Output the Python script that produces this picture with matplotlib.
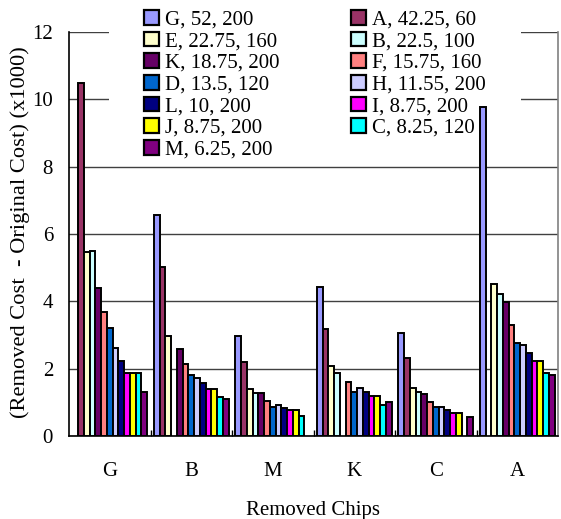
import numpy as np
import matplotlib
matplotlib.use("Agg")
import matplotlib.pyplot as plt
from matplotlib.patches import Rectangle, Patch

plt.rcParams['font.family'] = ['Liberation Serif', 'DejaVu Serif']

# Removed chips along the x axis
categories = ["G", "B", "M", "K", "C", "A"]

# One series per chip (label: name, area, power); NaN where the chip is the removed one
series_names = ["G", "A", "E", "B", "K", "F", "D", "H", "L", "I", "J", "C", "M"]
series_labels = ["G, 52, 200", "A, 42.25, 60", "E, 22.75, 160", "B, 22.5, 100",
                 "K, 18.75, 200", "F, 15.75, 160", "D, 13.5, 120", "H, 11.55, 200",
                 "L, 10, 200", "I, 8.75, 200", "J, 8.75, 200", "C, 8.25, 120",
                 "M, 6.25, 200"]
series_colors = ["#9999FF", "#993366", "#FFFFCC", "#CCFFFF", "#660066", "#FF8080",
                 "#0066CC", "#CCCCFF", "#000080", "#FF00FF", "#FFFF00", "#00FFFF",
                 "#800080"]

nan = np.nan
val_G = [nan, 6.55, 2.97, 4.43, 3.07, 9.76]
val_A = [10.50, 5.03, 2.19, 3.17, 2.33, nan]
val_E = [5.46, 2.97, 1.40, 2.09, 1.42, 4.51]
val_B = [5.49, nan, 1.29, 1.88, 1.32, 4.22]
val_K = [4.39, 2.58, 1.29, nan, 1.24, 3.97]
val_F = [3.69, 2.15, 1.05, 1.59, 1.02, 3.30]
val_D = [3.22, 1.81, 0.87, 1.30, 0.87, 2.75]
val_H = [2.62, 1.73, 0.91, 1.42, 0.87, 2.70]
val_L = [2.23, 1.56, 0.84, 1.30, 0.77, 2.46]
val_I = [1.88, 1.40, 0.77, 1.19, 0.69, 2.23]
val_J = [1.88, 1.40, 0.77, 1.19, 0.69, 2.23]
val_C = [1.88, 1.17, 0.59, 0.92, nan, 1.86]
val_M = [1.30, 1.10, nan, 1.00, 0.57, 1.81]

all_values = [val_G, val_A, val_E, val_B, val_K, val_F, val_D, val_H,
              val_L, val_I, val_J, val_C, val_M]

yticks = [0, 2, 4, 6, 8, 10, 12]

fig = plt.figure(figsize=(5.61, 5.19), dpi=100)
ax = fig.add_axes([69 / 561, 1 - 436 / 519, 489 / 561, 404 / 519])

x = np.arange(len(categories))
n = len(series_names)
w = 0.0708
handles = []
for j, (vals, col, lab) in enumerate(zip(all_values, series_colors, series_labels)):
    offs = (j - (n - 1) / 2) * w
    ax.bar(x + offs, np.array(vals, dtype=float), width=w, color=col,
           edgecolor="black", linewidth=1.4, zorder=3)
    handles.append(Patch(facecolor=col, edgecolor="black", linewidth=1.6, label=lab))

ax.set_xlim(-0.5, len(categories) - 0.5)
ax.set_ylim(0, 12)
ax.set_yticks(yticks)
ax.set_yticklabels([str(t) for t in yticks])
ax.set_xticks(x)
ax.set_xticklabels(categories)
ax.set_xticks(np.arange(len(categories) - 1) + 0.5, minor=True)

ax.tick_params(axis="y", length=0, pad=11.5, labelsize=15)
ax.tick_params(axis="x", which="major", length=0, pad=19, labelsize=15)
ax.tick_params(axis="x", which="minor", direction="in", length=4.5, width=1, color="black")

ax.set_axisbelow(True)
ax.yaxis.grid(True, color="#404040", linewidth=1.0, zorder=0.5)
ax.spines["top"].set_visible(False)
ax.spines["right"].set_color("#808080")
ax.spines["left"].set_color("black")
ax.spines["bottom"].set_color("black")
for s in ax.spines.values():
    s.set_linewidth(1.2)

ax.set_xlabel("Removed Chips", fontsize=15, labelpad=14)
fig.text(20 / 561, 1 - 232 / 519, "(Removed Cost  - Original Cost) (x1000)",
         rotation=90, ha="center", va="center", fontsize=16.2)

# white area behind the legend
bg = Rectangle(((109 - 69) / 489, (436 - 160) / 404), (521 - 109) / 489, 0.4,
               transform=ax.transAxes, facecolor="white", edgecolor="none",
               zorder=1.5, clip_on=False)
ax.add_patch(bg)

order = [0, 2, 4, 6, 8, 10, 12, 1, 3, 5, 7, 9, 11]
leg = ax.legend([handles[i] for i in order], [series_labels[i] for i in order],
                ncol=2, loc="upper left", bbox_to_anchor=(144 / 561, 1 - 10 / 519),
                bbox_transform=fig.transFigure, frameon=False, fontsize=15,
                handlelength=0.7, handleheight=0.7, handletextpad=0.3,
                labelspacing=0.1, columnspacing=3.45, borderpad=0, borderaxespad=0)

fig.savefig("out.png", dpi=100)
